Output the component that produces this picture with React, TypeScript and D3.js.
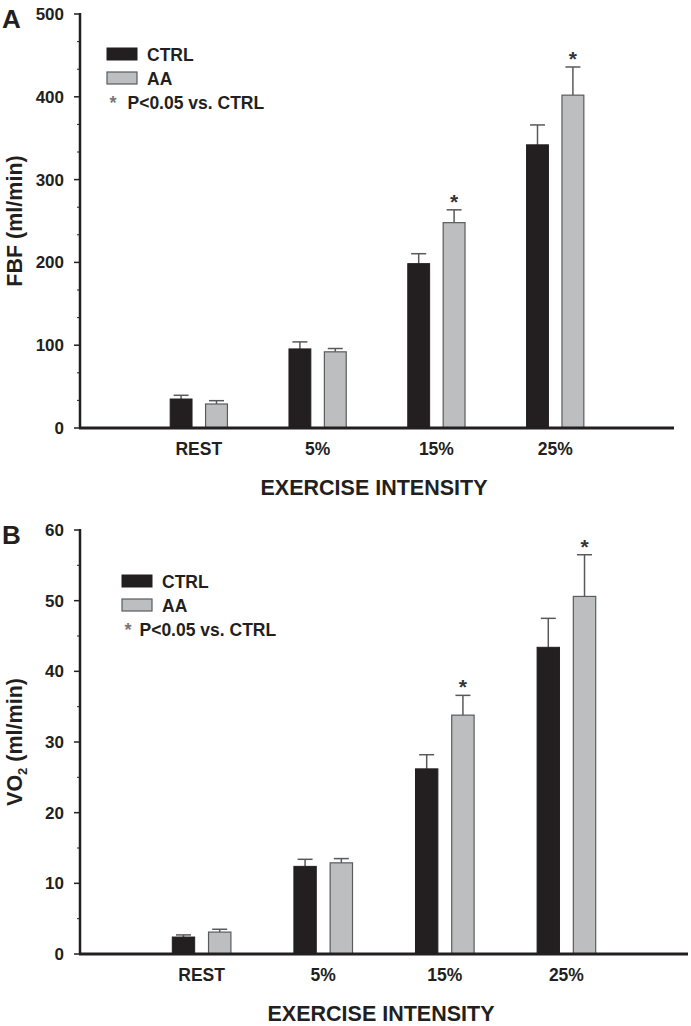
import React from "react";
import * as d3 from "d3";

const categories = ["REST", "5%", "15%", "25%"];

// Panel A: FBF (ml/min)
const fbfCtrl = [35, 95.5, 198.5, 342];
const fbfCtrlErr = [4.5, 8.5, 12, 24];
const fbfAA = [29, 92, 248, 402];
const fbfAAErr = [4, 4, 15.5, 34];
const fbfSig = [false, false, true, true];
const fbfMajorTicks = [0, 100, 200, 300, 400, 500];

// Panel B: VO2 (ml/min)
const vo2Ctrl = [2.4, 12.4, 26.2, 43.4];
const vo2CtrlErr = [0.3, 1.0, 2.0, 4.1];
const vo2AA = [3.1, 12.9, 33.8, 50.6];
const vo2AAErr = [0.4, 0.6, 2.8, 5.9];
const vo2Sig = [false, false, true, true];
const vo2MajorTicks = [0, 10, 20, 30, 40, 50, 60];

const FONT = "'Liberation Sans', Arial, Helvetica, sans-serif";
const DARK = "#231f20";
const GREY = "#bcbec0";
const GREY_STROKE = "#5a5b5d";
const ERR = "#58595b";

type PanelProps = {
  letter: string;
  yLabel: React.ReactNode;
  ctrl: number[];
  ctrlErr: number[];
  aa: number[];
  aaErr: number[];
  sig: boolean[];
  yMax: number;
  majorTicks: number[];
  minorStep: number;
  xRange: [number, number];
  yRange: [number, number];
  legendX: number;
  legendY: number;
  letterY: number;
  pOffset: number;
};

function Panel(p: PanelProps) {
  const x = d3.scaleLinear().domain([0, 5]).range(p.xRange);
  const y = d3.scaleLinear().domain([0, p.yMax]).range(p.yRange);
  const step = x(1) - x(0);
  const bw = step * 0.184;
  const off = step * 0.149;
  const x0 = p.xRange[0];
  const minorTicks = d3
    .range(0, p.yMax + 1e-6, p.minorStep)
    .filter((v) => !p.majorTicks.some((m) => Math.abs(m - v) < 1e-6));
  const base = y(0);
  const yMid = (p.yRange[0] + p.yRange[1]) / 2;
  const xMid = (p.xRange[0] + p.xRange[1]) / 2;

  const bars = categories.map((c, i) => {
    const cx = x(i + 1);
    const cL = cx - off - bw / 2;
    const aL = cx + off - bw / 2;
    const cTop = y(p.ctrl[i]);
    const aTop = y(p.aa[i]);
    const cErr = y(p.ctrl[i] + p.ctrlErr[i]);
    const aErr = y(p.aa[i] + p.aaErr[i]);
    const capW = 15;
    return (
      <g key={c}>
        <line x1={cx - off} x2={cx - off} y1={cTop} y2={cErr} stroke={ERR} strokeWidth={1.5} />
        <line x1={cx - off - capW / 2} x2={cx - off + capW / 2} y1={cErr} y2={cErr} stroke={ERR} strokeWidth={1.5} />
        <line x1={cx + off} x2={cx + off} y1={aTop} y2={aErr} stroke={ERR} strokeWidth={1.5} />
        <line x1={cx + off - capW / 2} x2={cx + off + capW / 2} y1={aErr} y2={aErr} stroke={ERR} strokeWidth={1.5} />
        <rect x={cL} y={cTop} width={bw} height={base - cTop} fill={DARK} stroke={DARK} strokeWidth={1} />
        <rect x={aL} y={aTop} width={bw} height={base - aTop} fill={GREY} stroke={GREY_STROKE} strokeWidth={1.2} />
        {p.sig[i] && (
          <text x={cx + off} y={aErr - 1} textAnchor="middle" fontFamily={FONT} fontWeight="bold" fontSize={21} fill="#333">
            *
          </text>
        )}
        <text x={cx} y={base + 27} textAnchor="middle" fontFamily={FONT} fontWeight="bold" fontSize={17.5} fill={DARK}>
          {c}
        </text>
      </g>
    );
  });

  return (
    <g>
      <text x={2} y={p.letterY} fontFamily={FONT} fontWeight="bold" fontSize={26} fill={DARK}>
        {p.letter}
      </text>
      {/* y axis */}
      <line x1={x0} x2={x0} y1={y(p.yMax) - 1} y2={base} stroke={DARK} strokeWidth={2.5} />
      {p.majorTicks.map((t) => (
        <g key={"M" + t}>
          <line x1={x0 - 6} x2={x0} y1={y(t)} y2={y(t)} stroke={DARK} strokeWidth={1.5} />
          <text x={x0 - 16} y={y(t) + 6} textAnchor="end" fontFamily={FONT} fontWeight="bold" fontSize={17} fill={DARK}>
            {t}
          </text>
        </g>
      ))}
      {minorTicks.map((t) => (
        <line key={"m" + t} x1={x0 - 3} x2={x0} y1={y(t)} y2={y(t)} stroke={DARK} strokeWidth={1} />
      ))}
      {bars}
      {/* x axis */}
      <line x1={x0 - 1} x2={p.xRange[1]} y1={base} y2={base} stroke={DARK} strokeWidth={3} />
      <text x={xMid - 3} y={base + 67} textAnchor="middle" fontFamily={FONT} fontWeight="bold" fontSize={21.5} fill={DARK}>
        EXERCISE INTENSITY
      </text>
      <text
        transform={`translate(21.5,${yMid}) rotate(-90)`}
        textAnchor="middle"
        fontFamily={FONT}
        fontWeight="bold"
        fontSize={21.5}
        fill={DARK}
      >
        {p.yLabel}
      </text>
      {/* legend */}
      <rect x={p.legendX} y={p.legendY} width={30} height={12} fill={DARK} stroke={DARK} />
      <text x={p.legendX + 40} y={p.legendY + 12.5} fontFamily={FONT} fontWeight="bold" fontSize={17.5} fill={DARK}>
        CTRL
      </text>
      <rect x={p.legendX} y={p.legendY + 24} width={30} height={12} fill={GREY} stroke={GREY_STROKE} strokeWidth={1.2} />
      <text x={p.legendX + 40} y={p.legendY + 36.5} fontFamily={FONT} fontWeight="bold" fontSize={17.5} fill={DARK}>
        AA
      </text>
      <text x={p.legendX + 6} y={p.legendY + 61} textAnchor="middle" fontFamily={FONT} fontWeight="bold" fontSize={18} fill="#777">
        *
      </text>
      <text x={p.legendX + p.pOffset} y={p.legendY + 61} fontFamily={FONT} fontWeight="bold" fontSize={17.5} fill={DARK}>
        P&lt;0.05 vs. CTRL
      </text>
    </g>
  );
}

export default function App() {
  return (
    <svg
      width={691}
      height={1026}
      viewBox="0 0 691 1026"
      style={{ position: "absolute", left: 0, top: 0, background: "#fff" }}
    >
      <rect x={0} y={0} width={691} height={1026} fill="#fff" />
      <Panel
        letter="A"
        yLabel="FBF (ml/min)"
        ctrl={fbfCtrl}
        ctrlErr={fbfCtrlErr}
        aa={fbfAA}
        aaErr={fbfAAErr}
        sig={fbfSig}
        yMax={500}
        majorTicks={fbfMajorTicks}
        minorStep={100 / 3}
        xRange={[80, 674]}
        yRange={[428, 14]}
        legendX={107}
        legendY={48}
        letterY={28}
        pOffset={20.5}
      />
      <Panel
        letter="B"
        yLabel={
          <>
            VO
            <tspan fontSize={13} dy={5}>
              2
            </tspan>
            <tspan dy={-5}> (ml/min)</tspan>
          </>
        }
        ctrl={vo2Ctrl}
        ctrlErr={vo2CtrlErr}
        aa={vo2AA}
        aaErr={vo2AAErr}
        sig={vo2Sig}
        yMax={60}
        majorTicks={vo2MajorTicks}
        minorStep={5}
        xRange={[80, 688]}
        yRange={[954, 530]}
        legendX={122}
        legendY={575}
        letterY={544}
        pOffset={17.5}
      />
    </svg>
  );
}
